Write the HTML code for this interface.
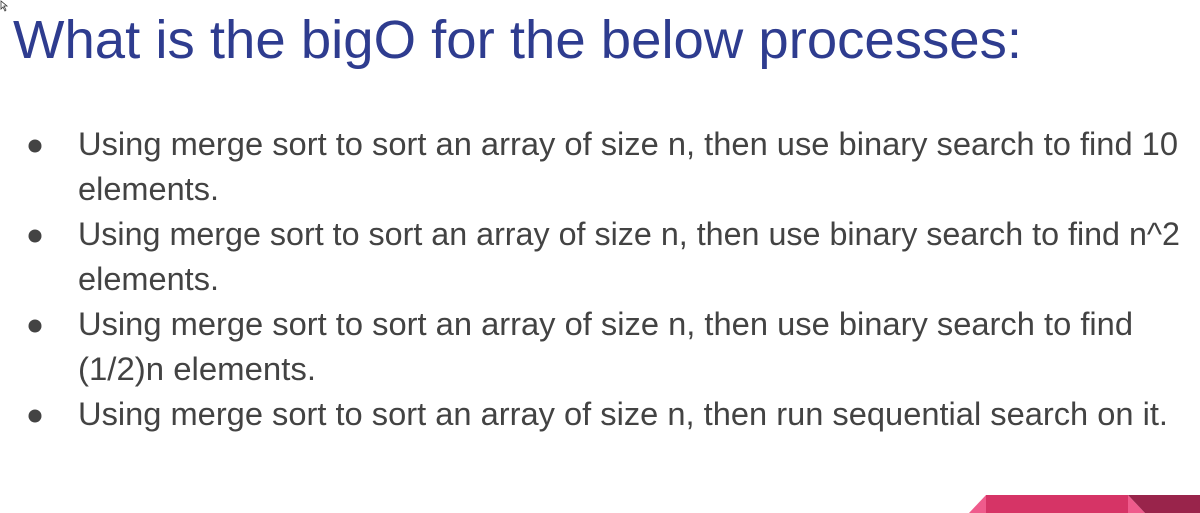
<!DOCTYPE html>
<html><head><meta charset="utf-8"><style>
html,body{margin:0;padding:0;background:#fff;width:1200px;height:513px;overflow:hidden}
svg{display:block}
.b{font-family:"Liberation Sans",sans-serif;font-size:32px;fill:#434343}
</style></head><body>
<svg width="1200" height="513" viewBox="0 0 1200 513">
<path d="M1 1 L1 9 L3 7 L5 11 L6 10 L4 6 L7 6 Z" fill="#fff" stroke="#333" stroke-width="0.8"/>
<text x="13" y="58" font-family="Liberation Sans, sans-serif" font-size="54" fill="#2e3c8f" textLength="1009" lengthAdjust="spacingAndGlyphs">What is the bigO for the below processes:</text>
<g fill="#434343">
<circle cx="35" cy="146" r="6.5"/><circle cx="35" cy="236" r="6.5"/><circle cx="35" cy="326" r="6.5"/><circle cx="35" cy="416" r="6.5"/>
</g>
<text class="b" x="78" y="155" textLength="1100" lengthAdjust="spacingAndGlyphs">Using merge sort to sort an array of size n, then use binary search to find 10</text>
<text class="b" x="78" y="200" textLength="141" lengthAdjust="spacingAndGlyphs">elements.</text>
<text class="b" x="78" y="245" textLength="1102" lengthAdjust="spacingAndGlyphs">Using merge sort to sort an array of size n, then use binary search to find n^2</text>
<text class="b" x="78" y="290" textLength="141" lengthAdjust="spacingAndGlyphs">elements.</text>
<text class="b" x="78" y="335" textLength="1055" lengthAdjust="spacingAndGlyphs">Using merge sort to sort an array of size n, then use binary search to find</text>
<text class="b" x="78" y="380" textLength="238" lengthAdjust="spacingAndGlyphs">(1/2)n elements.</text>
<text class="b" x="78" y="425" textLength="1090" lengthAdjust="spacingAndGlyphs">Using merge sort to sort an array of size n, then run sequential search on it.</text>
<polygon points="969,513 986,495 986,513" fill="#ef5b8c"/>
<rect x="986" y="495" width="142" height="18" fill="#d63466"/>
<polygon points="1128,495 1145,513 1128,513" fill="#ef5b8c"/>
<polygon points="1128,495 1200,495 1200,513 1145,513" fill="#99244b"/>
</svg>
</body></html>
